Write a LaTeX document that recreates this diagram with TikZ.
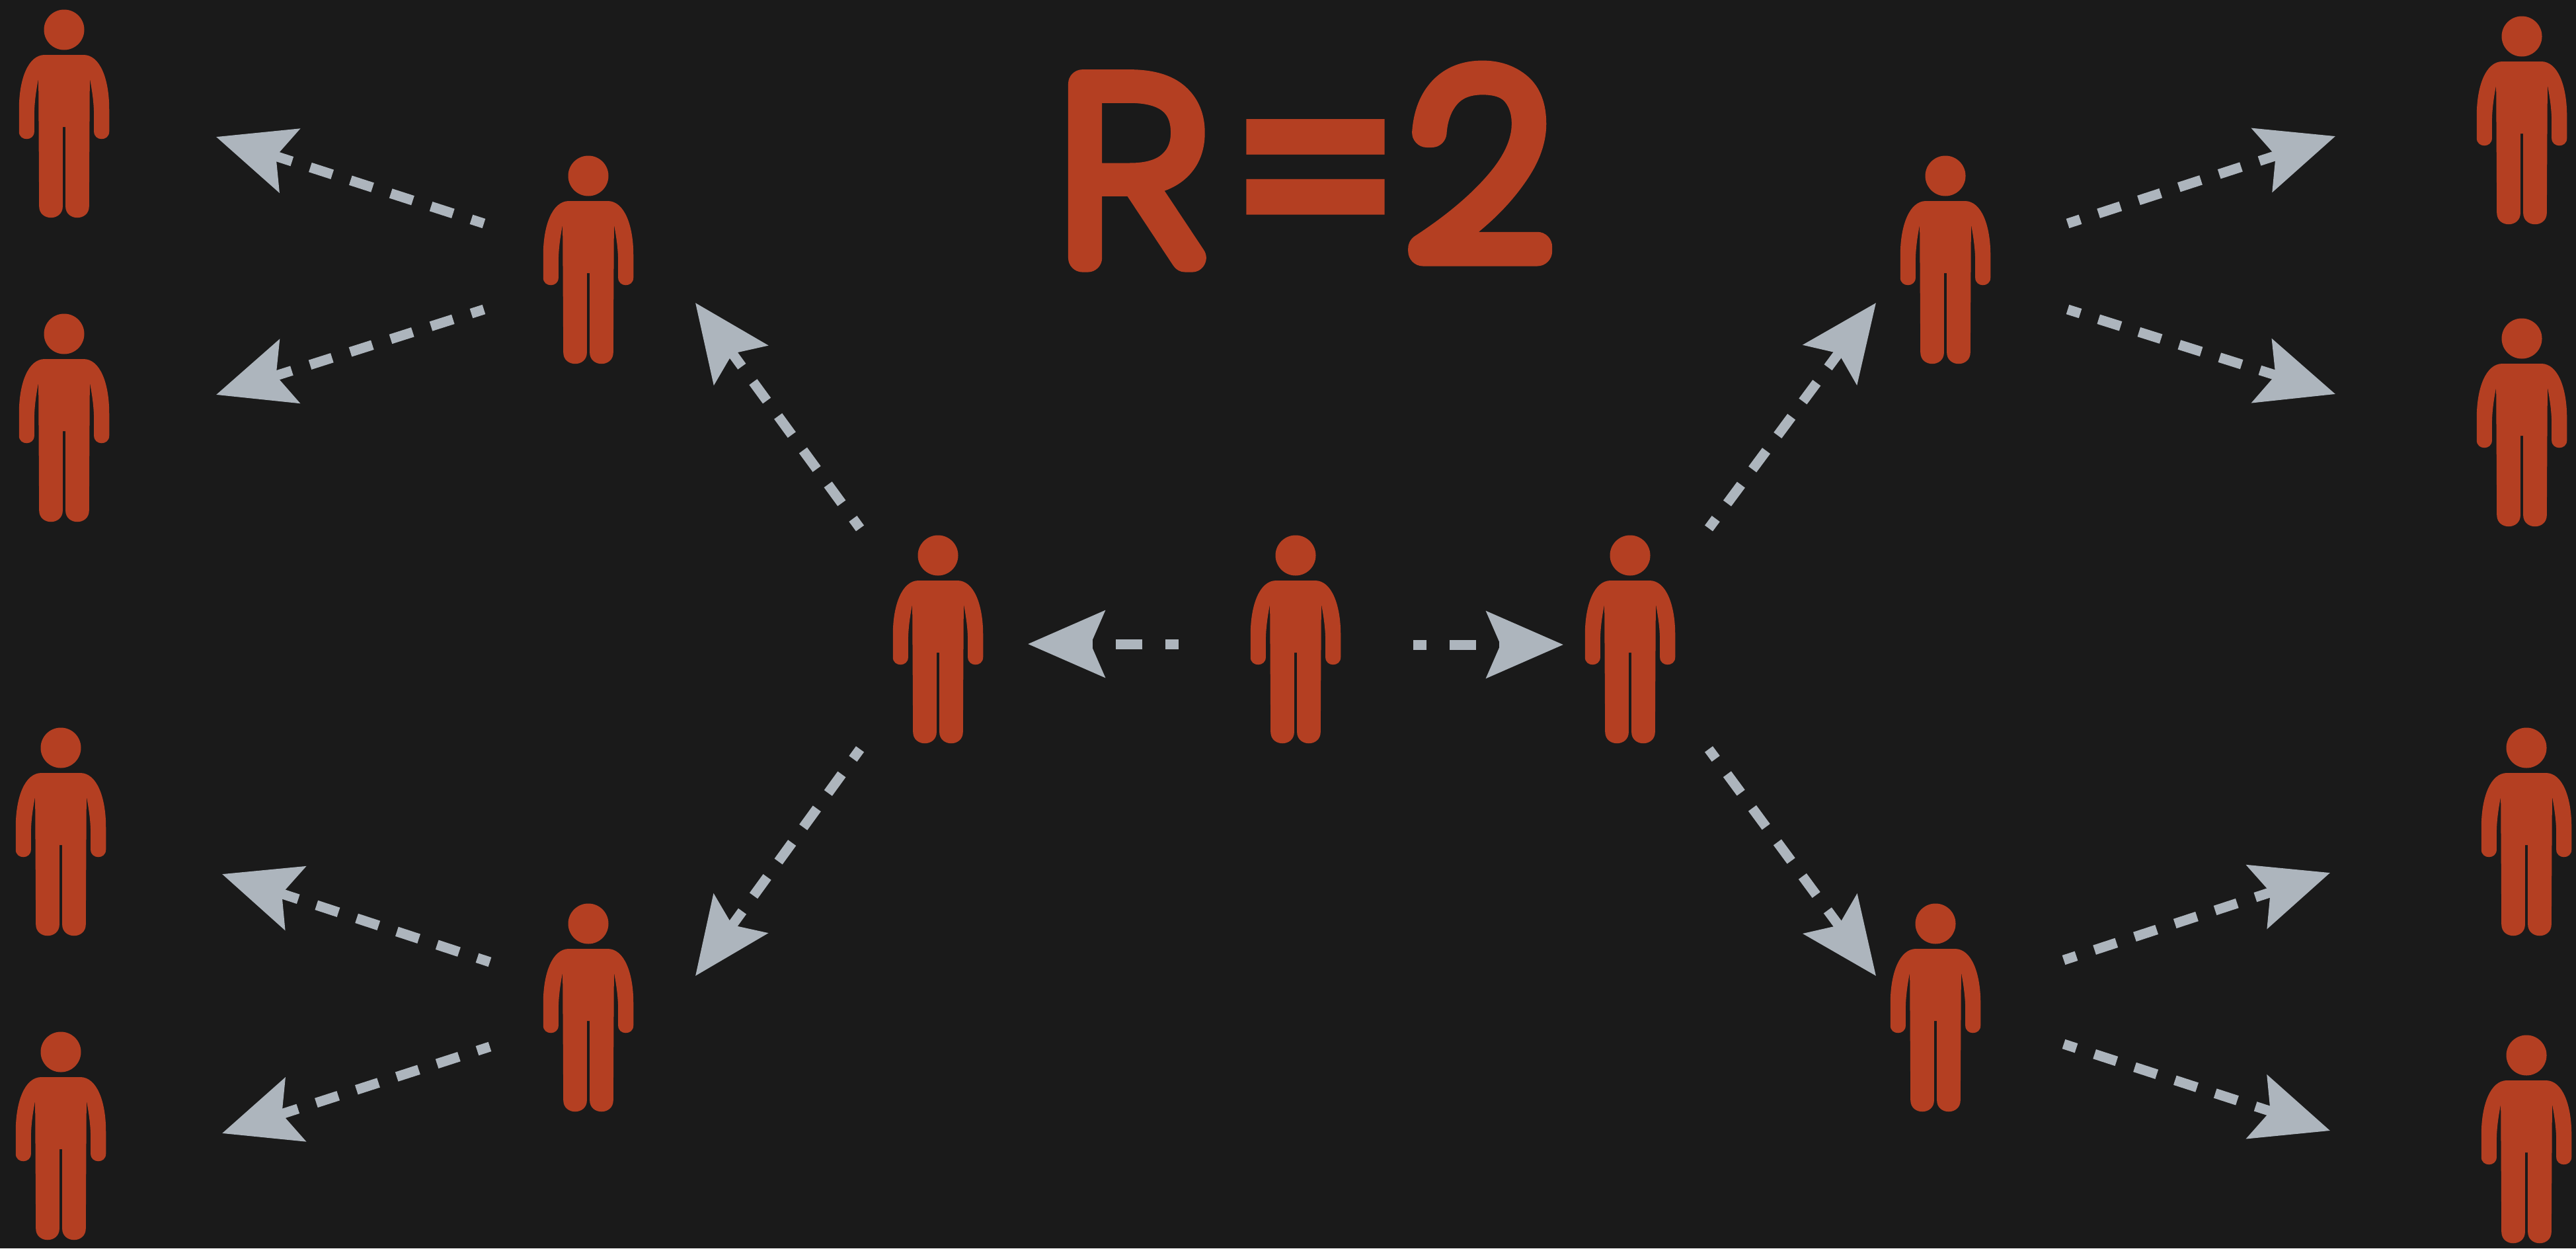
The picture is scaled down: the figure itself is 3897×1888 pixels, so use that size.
\documentclass[tikz,border=0pt]{standalone}
\usepackage{fontspec}
\usepackage{graphicx}
\setmainfont{Liberation Sans}
\newfontfamily\titlethin[FakeBold=11.5,FakeStretch=1.08]{Poppins Thin}
\newfontfamily\titletwo[FakeBold=12,FakeStretch=0.99]{Poppins Thin}
\newfontfamily\titlebar{Poppins Bold}
\usetikzlibrary{arrows.meta}
\definecolor{bgdark}{HTML}{1A1A1A}
\definecolor{rust}{HTML}{B43F22}
\definecolor{steel}{HTML}{ADB5BD}
\tikzset{
  x=1pt,y=-1pt,
  spreadtip/.style={-{Stealth[length=116pt,width=100pt,inset=21pt,fill=steel]}},
  spreadlong/.style={spreadtip,draw=steel,line width=15pt,dash pattern=on 35pt off 29pt},
  spreadnear/.style={spreadtip,draw=steel,line width=15pt,dash pattern=on 40pt off 35pt},
  personmark/.style={inner sep=0pt,minimum width=137pt,minimum height=314pt,draw=none},
  person/.pic={
    \fill[rust] (0,0) circle[radius=30.5pt];
    \fill[rust,xscale=1.05] (-28,38) -- (28,38) .. controls (52,38) and (65,75) .. (65,120) -- (65,154)
      .. controls (65,169) and (43,169) .. (43,154) -- (43,130) .. controls (43,110) and (40,90) .. (37,74)
      -- (36,267) .. controls (36,290) and (2,290) .. (2,267) -- (2,147) -- (-2,147) -- (-2,267)
      .. controls (-2,290) and (-36,290) .. (-36,267) -- (-37,74) .. controls (-40,90) and (-43,110) .. (-43,130)
      -- (-43,154) .. controls (-43,169) and (-65,169) .. (-65,154) -- (-65,120)
      .. controls (-65,75) and (-52,38) .. (-28,38) -- cycle;
  }
}
\newcommand{\personat}[3]{%
  \node[personmark] (#1) at (#2,#3+127) {};
  \pic at (#2,#3) {person};
}
\newcommand{\spreadarrow}[7]{%
  \coordinate (#1s) at (#2,#3);
  \coordinate (#1t) at (#4,#5);
  \draw[#7,dash phase=#6pt] (#1s) -- (#1t);
}
\begin{document}
\begin{tikzpicture}
\useasboundingbox (0,0) rectangle (3897,1888);
\fill[bgdark] (0,0) rectangle (3897,1888);

\personat{a1}{97}{45}
\personat{a2}{97}{505}
\personat{a3}{92}{1131}
\personat{a4}{92}{1591}
\personat{b1}{890}{266}
\personat{b2}{890}{1397}
\personat{c1}{1419}{840}
\personat{c2}{1960}{840}
\personat{c3}{2466}{840}
\personat{d1}{2943}{266}
\personat{d2}{2928}{1397}
\personat{e1}{3815}{55}
\personat{e2}{3815}{512}
\personat{e3}{3822}{1131}
\personat{e4}{3822}{1596}

\spreadarrow{l1}{1783}{974}{1555}{974}{20}{spreadnear}
\spreadarrow{r1}{2138}{975}{2365}{975}{20}{spreadnear}
\spreadarrow{l2}{1301}{799}{1052}{458}{17}{spreadlong}
\spreadarrow{l3}{1301}{1133}{1052}{1476}{17}{spreadlong}
\spreadarrow{r2}{2585}{799}{2838}{458}{17}{spreadlong}
\spreadarrow{r3}{2585}{1133}{2838}{1476}{17}{spreadlong}
\spreadarrow{q1}{732}{338}{327}{207}{15}{spreadlong}
\spreadarrow{q2}{732}{468}{327}{597}{15}{spreadlong}
\spreadarrow{q3}{741}{1455}{336}{1322}{15}{spreadlong}
\spreadarrow{q4}{741}{1583}{336}{1714}{15}{spreadlong}
\spreadarrow{q5}{3128}{338}{3533}{206}{15}{spreadlong}
\spreadarrow{q6}{3128}{468}{3533}{596}{15}{spreadlong}
\spreadarrow{q7}{3122}{1452}{3525}{1320}{15}{spreadlong}
\spreadarrow{q8}{3122}{1579}{3525}{1710}{15}{spreadlong}

\node[anchor=base west,inner sep=0pt,text=rust,line join=round] (title) at (1603,390)
  {\titlethin\fontsize{374pt}{374pt}\selectfont
   \makebox[257pt][l]{R}\makebox[274pt][l]{\raisebox{13pt}{\titlebar\resizebox{260pt}{197pt}{=}}}\raisebox{10pt}{\titletwo 2}};
\end{tikzpicture}
\end{document}
